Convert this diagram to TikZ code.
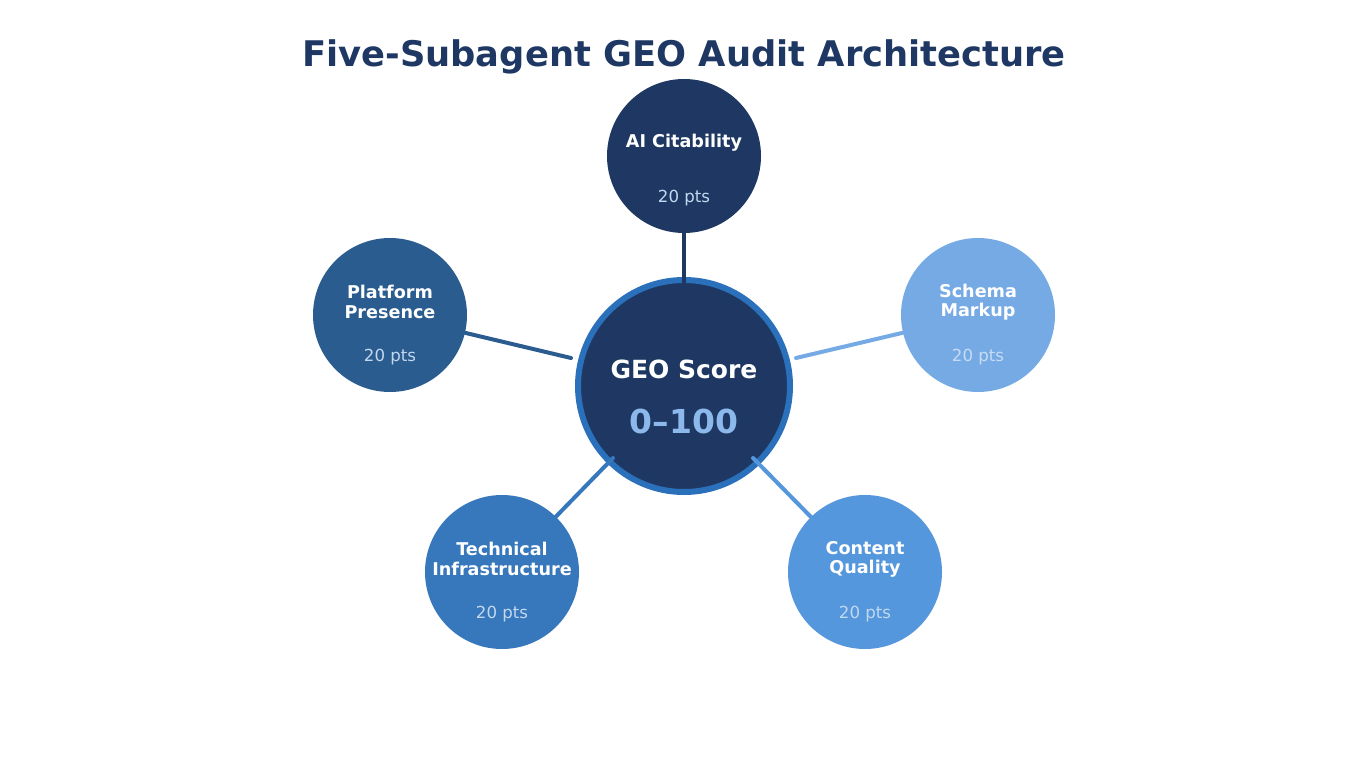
\documentclass[tikz,border=0pt]{standalone}
\usepackage{fontspec}
\setmainfont{DejaVu Sans}
\definecolor{navy}{HTML}{1E3863}
\definecolor{ring}{HTML}{2A70BA}
\definecolor{cplat}{HTML}{2B5C8F}
\definecolor{ctech}{HTML}{3777BB}
\definecolor{ccont}{HTML}{5597DC}
\definecolor{cschema}{HTML}{76AAE4}
\definecolor{ptsc}{HTML}{C2D8F0}
\definecolor{ptsl}{HTML}{C7DCF4}
\definecolor{rangec}{HTML}{8CB8EC}
\tikzset{
  x=1pt,y=-1pt,
  agent/.style={circle,minimum size=154pt,inner sep=0pt,text=white,align=center},
  link/.style={line width=4pt,line cap=round},
  ttl/.style={font=\fontsize{17.6}{19.2}\selectfont\bfseries,text=white,align=center},
  pts/.style={font=\fontsize{16.6}{19}\selectfont,text=ptsc},
}
\begin{document}
\begin{tikzpicture}
\useasboundingbox[fill=white] (0,0) rectangle (1367,767);
\node[font=\fontsize{35.3}{40}\selectfont\bfseries,text=navy] (title) at (684,57) {Five-Subagent GEO Audit Architecture};
% inner endpoints
\coordinate (iai) at (684,283);
\coordinate (isc) at (796,358);
\coordinate (ico) at (753,458);
\coordinate (ite) at (613,458);
\coordinate (ipl) at (571,358);
% center
\node[circle,minimum size=212pt,inner sep=0pt,fill=navy,draw=ring,line width=6pt] (center) at (684,386) {};
\node[font=\fontsize{25}{30}\selectfont\bfseries,text=white] (geo) at (684,369) {GEO Score};
\node[font=\fontsize{33}{38}\selectfont\bfseries,text=rangec] (range) at (684,421) {0–100};
% agents
\node[agent,fill=navy] (ai) at (684,156) {};
\node[agent,fill=cschema] (sc) at (978,315) {};
\node[agent,fill=ccont] (co) at (865,572) {};
\node[agent,fill=ctech] (te) at (502,572) {};
\node[agent,fill=cplat] (pl) at (390,315) {};
% links
\draw[link,navy] (ai) -- (iai);
\draw[link,cschema] (sc) -- (isc);
\draw[link,ccont] (co) -- (ico);
\draw[link,ctech] (te) -- (ite);
\draw[link,cplat] (pl) -- (ipl);
% labels
\node[ttl] (aiT) at (684,143) {AI Citability};
\node[pts] (aiP) at (684,198) {20 pts};
\node[ttl] (scT) at (978,302) {Schema\\Markup};
\node[pts,text=ptsl] (scP) at (978,357) {20 pts};
\node[ttl] (coT) at (865,559) {Content\\Quality};
\node[pts] (coP) at (865,614) {20 pts};
\node[ttl] (teT) at (502,559) {Technical\\Infrastructure};
\node[pts] (teP) at (502,614) {20 pts};
\node[ttl] (plT) at (390,302) {Platform\\Presence};
\node[pts] (plP) at (390,357) {20 pts};
\end{tikzpicture}
\end{document}
